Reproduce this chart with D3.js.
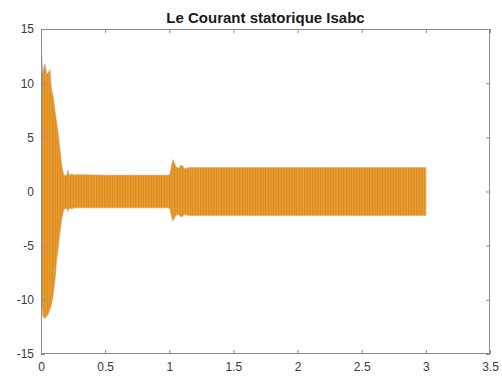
<!DOCTYPE html>
<html><head><meta charset="utf-8">
<script src="https://cdn.jsdelivr.net/npm/d3@7"></script>
<style>html,body{margin:0;padding:0;background:#fff;}svg{display:block;}</style>
</head><body>
<svg id="c" width="502" height="376"></svg>
<script>
// ---- data (envelopes of the three-phase stator current) ----
const title = "Le Courant statorique Isabc";
const xTicks = [0, 0.5, 1, 1.5, 2, 2.5, 3, 3.5];
const yTicks = [-15, -10, -5, 0, 5, 10, 15];
const xTickLabels = ["0", "0.5", "1", "1.5", "2", "2.5", "3", "3.5"];
const yTickLabels = ["-15", "-10", "-5", "0", "5", "10", "15"];

// combined (orange/yellow) envelope
const envTime  = [0, 0.005, 0.015, 0.03, 0.045, 0.06, 0.07, 0.08, 0.095, 0.11, 0.12, 0.135, 0.15, 0.16, 0.17, 0.18, 0.19, 0.2, 0.21, 0.22, 0.24, 0.26, 0.28, 0.5, 0.8, 0.995, 1.005, 1.02, 1.03, 1.05, 1.07, 1.09, 1.1, 1.12, 1.15, 1.3, 2.0, 2.5, 3.0];
const envUpper = [4.5, 8.0, 11.0, 11.8, 10.8, 11.0, 11.2, 9.5, 8.7, 7.3, 6.5, 5.2, 3.6, 2.5, 1.8, 1.4, 1.5, 1.5, 1.9, 1.5, 1.6, 1.5, 1.55, 1.5, 1.5, 1.5, 1.6, 2.5, 2.9, 2.3, 2.1, 2.4, 2.4, 2.1, 2.2, 2.2, 2.2, 2.2, 2.2];
const envLower = [-4.0, -10.0, -11.5, -11.7, -11.5, -11.2, -10.8, -10.5, -9.5, -8.0, -6.5, -5.0, -3.5, -2.6, -2.0, -1.6, -1.6, -1.5, -1.8, -1.5, -1.6, -1.5, -1.5, -1.5, -1.5, -1.5, -1.6, -2.4, -2.7, -2.2, -2.1, -2.3, -2.3, -2.1, -2.2, -2.2, -2.2, -2.2, -2.2];

// blue phase (visible only at the start peaks)
const blueTime  = [0, 0.003, 0.008, 0.013, 0.02, 0.04, 0.06, 0.07, 0.08, 0.1, 0.15];
const blueUpper = [5.0, 13.0, 12.6, 11.0, 10.5, 10.0, 10.5, 9.5, 8.0, 6.0, 2.5];
const blueLower = [-3.0, -9.0, -10.0, -10.5, -10.8, -10.6, -10.4, -10.4, -9.8, -7.5, -2.8];

// ---- layout ----
const W = 502, H = 376;
const m = {left: 41, right: 12, top: 29, bottom: 22};
const svg = d3.select("#c");
const x = d3.scaleLinear().domain([0, 3.5]).range([m.left, W - m.right]);
const y = d3.scaleLinear().domain([-15, 15]).range([H - m.bottom, m.top]);

// stripe pattern for the dense oscillation texture
const defs = svg.append("defs");
const pat = defs.append("pattern").attr("id", "stripes").attr("patternUnits", "userSpaceOnUse")
  .attr("width", 2.6).attr("height", 10);
pat.append("rect").attr("width", 2.6).attr("height", 10).attr("fill", "#E89E2C");
pat.append("rect").attr("width", 1.1).attr("height", 10).attr("fill", "#DC8A24");
defs.append("clipPath").attr("id", "clip").append("rect")
  .attr("x", m.left).attr("y", m.top).attr("width", W - m.left - m.right).attr("height", H - m.top - m.bottom);

const g = svg.append("g").attr("clip-path", "url(#clip)");

const blueData = blueTime.map((t, i) => ({t, u: blueUpper[i], l: blueLower[i]}));
const envData = envTime.map((t, i) => ({t, u: envUpper[i], l: envLower[i]}));

const area = d3.area().x(d => x(d.t)).y0(d => y(d.l)).y1(d => y(d.u));

g.append("path").datum(blueData).attr("d", area).attr("fill", "#3E86B8").attr("opacity", 0.9);
// red-orange phase slightly underneath (fringe)
g.append("path").datum(envData).attr("d", area)
  .attr("fill", "none").attr("stroke", "#C99060").attr("stroke-width", 1.2).attr("opacity", 0.55);
g.append("path").datum(envData).attr("d", area).attr("fill", "url(#stripes)");

// ---- axes (MATLAB box style) ----
const axisColor = "#8c8c8c";
const tickLen = 4;
const axG = svg.append("g");
axG.append("rect").attr("x", m.left + 0.5).attr("y", m.top + 0.5)
  .attr("width", W - m.left - m.right - 1).attr("height", H - m.top - m.bottom - 1)
  .attr("fill", "none").attr("stroke", axisColor).attr("stroke-width", 1);

const axBottom = d3.axisBottom(x).tickValues(xTicks).tickSize(-tickLen).tickPadding(8)
  .tickFormat((d, i) => xTickLabels[i]);
const axTop = d3.axisTop(x).tickValues(xTicks).tickSize(-tickLen).tickFormat("");
const axLeft = d3.axisLeft(y).tickValues(yTicks).tickSize(-tickLen).tickPadding(7)
  .tickFormat((d, i) => yTickLabels[i]);
const axRight = d3.axisRight(y).tickValues(yTicks).tickSize(-tickLen).tickFormat("");

function style(sel) {
  sel.select(".domain").remove();
  sel.selectAll(".tick line").attr("stroke", axisColor);
  sel.selectAll(".tick text").attr("fill", "#3a3a3a")
    .style("font-family", "'Liberation Sans', Arial, sans-serif").style("font-size", "12px");
}
axG.append("g").attr("transform", `translate(0,${H - m.bottom})`).call(axBottom).call(style);
axG.append("g").attr("transform", `translate(0,${m.top})`).call(axTop).call(style);
axG.append("g").attr("transform", `translate(${m.left},0)`).call(axLeft).call(style);
axG.append("g").attr("transform", `translate(${W - m.right},0)`).call(axRight).call(style);

svg.append("text").attr("x", (m.left + W - m.right) / 2).attr("y", 22.5)
  .attr("text-anchor", "middle")
  .style("font-family", "'Liberation Sans', Arial, sans-serif")
  .style("font-size", "15px").style("font-weight", "bold").attr("fill", "#1a1a1a")
  .text(title);
</script>
</body></html>
